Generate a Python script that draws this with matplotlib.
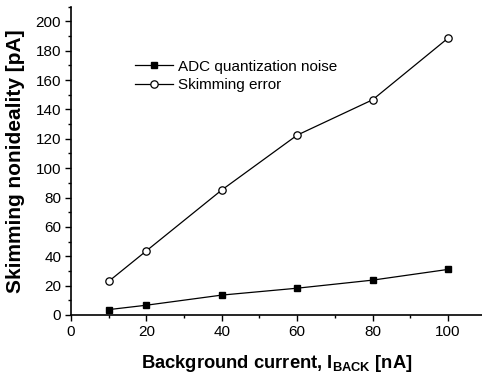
import matplotlib
matplotlib.use("Agg")
import matplotlib.pyplot as plt
from matplotlib.ticker import MultipleLocator

plt.rcParams["font.family"] = ["Liberation Sans", "DejaVu Sans"]
plt.rcParams["mathtext.fontset"] = "custom"
plt.rcParams["mathtext.rm"] = "Liberation Sans"
plt.rcParams["mathtext.bf"] = "Liberation Sans:bold"

# data
i_back = [10, 20, 40, 60, 80, 100]
adc_noise = [3.6, 6.6, 13.5, 18.2, 23.7, 31.0]
skim_error = [22.8, 43.6, 85.1, 122.5, 146.6, 188.6]

fig = plt.figure(figsize=(4.82, 3.74), dpi=100)
ax = fig.add_axes([0.147, 0.158, 0.853, 0.824])

ax.plot(i_back, adc_noise, color="black", lw=0.9, marker="s", ms=5,
        mfc="black", mec="black", label="ADC quantization noise")
ax.plot(i_back, skim_error, color="black", lw=0.9, marker="o", ms=5.3,
        mfc="white", mec="black", mew=0.9, label="Skimming error")

ax.set_xlim(0, 109)
ax.set_ylim(0, 210)
ax.xaxis.set_major_locator(MultipleLocator(20))
ax.xaxis.set_minor_locator(MultipleLocator(10))
ax.yaxis.set_major_locator(MultipleLocator(20))
ax.yaxis.set_minor_locator(MultipleLocator(10))
ax.tick_params(which="major", direction="out", length=4, width=1, labelsize=11, pad=3)
ax.tick_params(which="minor", direction="out", length=2.5, width=1)
ax.spines[["top", "right"]].set_visible(False)
ax.spines["left"].set_linewidth(1.2)
ax.spines["bottom"].set_linewidth(1.2)

ax.set_xlabel(r"Background current, I$_{\mathbf{BACK}}$ [nA]", fontsize=13.2, fontweight="bold", labelpad=10)
ax.set_ylabel("Skimming nonideality [pA]", fontsize=15, fontweight="bold", labelpad=8)

ax.legend(loc="upper left", bbox_to_anchor=(0.138, 0.853), frameon=False, fontsize=11,
          handlelength=2.5, handletextpad=0.3, labelspacing=0.3, borderpad=0)

fig.savefig("out.png", dpi=100)
